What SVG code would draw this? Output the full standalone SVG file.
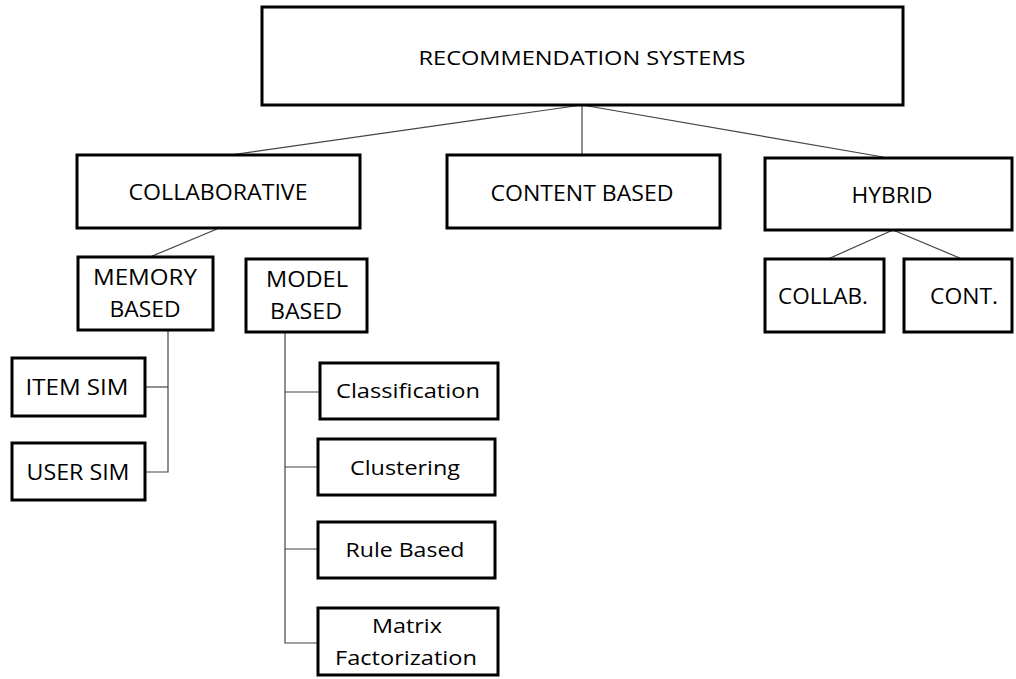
<svg xmlns="http://www.w3.org/2000/svg" width="1016" height="679" viewBox="0 0 1016 679">
<style>
.box{fill:#fff;stroke:#000;stroke-width:3}
.t{font-family:"Open Sans","Liberation Sans",sans-serif;fill:#000;text-anchor:middle}
.c{stroke:#444;stroke-width:1.2;fill:none}
</style>
<rect width="1016" height="679" fill="#fff"/>
<g id="connectors">
<line class="c" x1="582" y1="105" x2="230" y2="155"/>
<line class="c" x1="582" y1="105" x2="582" y2="155"/>
<line class="c" x1="582" y1="105" x2="883" y2="157"/>
<line class="c" x1="217" y1="229" x2="150" y2="257"/>
<line class="c" x1="893" y1="230" x2="828" y2="259"/>
<line class="c" x1="893" y1="230" x2="962" y2="259"/>
<polyline class="c" points="168,330 168,472 145,472"/>
<line class="c" x1="145" y1="387" x2="168" y2="387"/>
<polyline class="c" points="285,332 285,643 318,643"/>
<line class="c" x1="285" y1="392" x2="320" y2="392"/>
<line class="c" x1="285" y1="467" x2="318" y2="467"/>
<line class="c" x1="285" y1="549" x2="318" y2="549"/>
</g>
<g id="root"><rect class="box" x="262" y="7" width="641" height="98"/><text class="t" x="582" y="65" font-size="20" textLength="327" lengthAdjust="spacingAndGlyphs">RECOMMENDATION SYSTEMS</text></g>
<g id="collaborative"><rect class="box" x="77" y="155" width="283" height="73"/><text class="t" x="218" y="200" font-size="22" textLength="179" lengthAdjust="spacingAndGlyphs">COLLABORATIVE</text></g>
<g id="content"><rect class="box" x="447" y="155" width="273" height="73"/><text class="t" x="582" y="201" font-size="22" textLength="183" lengthAdjust="spacingAndGlyphs">CONTENT BASED</text></g>
<g id="hybrid"><rect class="box" x="765" y="158" width="247" height="72"/><text class="t" x="892" y="203" font-size="22" textLength="81" lengthAdjust="spacingAndGlyphs">HYBRID</text></g>
<g id="collab"><rect class="box" x="765" y="259" width="119" height="73"/><text class="t" x="823" y="304" font-size="22" textLength="90" lengthAdjust="spacingAndGlyphs">COLLAB.</text></g>
<g id="cont"><rect class="box" x="904" y="259" width="108" height="73"/><text class="t" x="964" y="304" font-size="22" textLength="68" lengthAdjust="spacingAndGlyphs">CONT.</text></g>
<g id="memory"><rect class="box" x="78" y="257" width="135" height="73"/><text class="t" x="145" y="285" font-size="22" textLength="104" lengthAdjust="spacingAndGlyphs">MEMORY</text><text class="t" x="145" y="317" font-size="22" textLength="71" lengthAdjust="spacingAndGlyphs">BASED</text></g>
<g id="model"><rect class="box" x="246" y="259" width="121" height="73"/><text class="t" x="307" y="287" font-size="22" textLength="82" lengthAdjust="spacingAndGlyphs">MODEL</text><text class="t" x="306" y="319" font-size="22" textLength="72" lengthAdjust="spacingAndGlyphs">BASED</text></g>
<g id="itemsim"><rect class="box" x="12" y="358" width="133" height="58"/><text class="t" x="77" y="395" font-size="22" textLength="103" lengthAdjust="spacingAndGlyphs">ITEM SIM</text></g>
<g id="usersim"><rect class="box" x="12" y="443" width="133" height="57"/><text class="t" x="78" y="480" font-size="22" textLength="103" lengthAdjust="spacingAndGlyphs">USER SIM</text></g>
<g id="classification"><rect class="box" x="320" y="363" width="178" height="56"/><text class="t" x="408" y="398" font-size="19.5" textLength="144" lengthAdjust="spacingAndGlyphs">Classification</text></g>
<g id="clustering"><rect class="box" x="318" y="439" width="177" height="56"/><text class="t" x="405" y="475" font-size="19.5" textLength="110" lengthAdjust="spacingAndGlyphs">Clustering</text></g>
<g id="rulebased"><rect class="box" x="318" y="522" width="177" height="56"/><text class="t" x="405" y="557" font-size="19.5" textLength="119" lengthAdjust="spacingAndGlyphs">Rule Based</text></g>
<g id="matrix"><rect class="box" x="318" y="608" width="180" height="67"/><text class="t" x="407" y="633" font-size="19.5" textLength="70" lengthAdjust="spacingAndGlyphs">Matrix</text><text class="t" x="406" y="665" font-size="19.5" textLength="142" lengthAdjust="spacingAndGlyphs">Factorization</text></g>
</svg>
